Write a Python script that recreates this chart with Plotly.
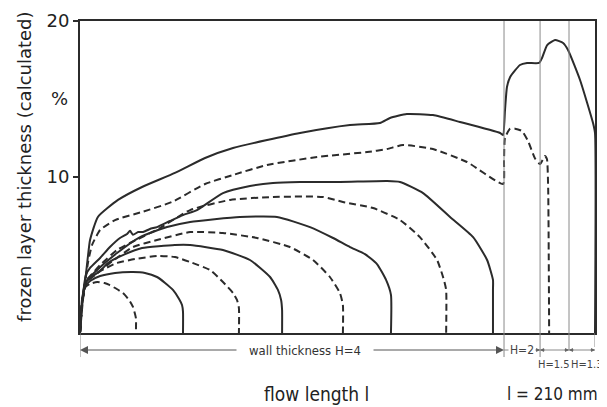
import plotly.graph_objects as go

# flow length in mm, frozen layer thickness in %
x1 = [0, 0.8, 2, 4, 7, 10, 12, 15, 17.5, 20, 21.6, 22.8, 22.8]
y1 = [0, 1.8, 2.9, 3.15, 3.27, 3.2, 3.08, 2.82, 2.56, 2.12, 1.67, 0.95, 0]

x2 = [0, 0.8, 2, 4.1, 8.2, 14.3, 21.6, 26.5, 31.4, 34.7, 37.9, 40.4, 41.6, 42, 42]
y2 = [0, 1.8, 2.95, 3.33, 3.65, 3.85, 3.91, 3.85, 3.59, 3.21, 2.76, 2.18, 1.79, 1.35, 0]

x3 = [0, 0.8, 2, 3.3, 8.2, 15.1, 22.4, 31.8, 38.7, 44.9, 53, 58.3, 62.4, 64, 64.8, 64.8]
y3 = [0, 1.8, 3.0, 3.4, 3.97, 4.49, 4.74, 4.94, 4.87, 4.55, 4.04, 3.27, 2.56, 2.12, 1.6, 0]

x4 = [0, 0.8, 2, 4.1, 8.2, 11.4, 18.4, 25.3, 38.7, 44.9, 58.3, 69.3, 77.5, 80.7, 82, 82.4, 82.4]
y4 = [0, 1.8, 3.14, 3.53, 3.97, 4.49, 5.06, 5.45, 5.64, 5.64, 5.32, 4.68, 3.59, 2.76, 2.12, 1.47, 0]

x5 = [0, 0.8, 2.4, 6.1, 12.2, 21.6, 31.4, 44.9, 58.3, 72.2, 85.6, 95, 101.9, 106, 107.2, 107.2]
y5 = [0, 1.8, 3.21, 3.72, 4.49, 5.51, 5.96, 6.47, 6.41, 6.09, 5.51, 4.68, 3.59, 2.56, 1.79, 0]

x6 = [0, 0.8, 2.4, 6.1, 15.1, 24.5, 35.5, 44.9, 65.2, 80.3, 93.8, 103.2, 110.1, 116.2, 121.1, 124.8, 126.8, 126.8]
y6 = [0, 1.8, 3.27, 3.91, 5.13, 6.15, 6.79, 7.12, 7.44, 7.44, 6.79, 6.09, 5.51, 5.06, 4.42, 3.4, 2.44, 0]

x7 = [0, 0.8, 2.4, 4.9, 8.2, 15.1, 20.4, 32.6, 44.9, 61.2, 78.7, 99.1, 107.2, 119.5, 130.5, 138.6, 145.6, 148.4, 149.3, 149.3]
y7 = [0, 1.8, 3.33, 3.78, 4.36, 5.32, 5.77, 6.73, 7.88, 8.53, 8.72, 8.72, 8.4, 8.01, 7.24, 6.15, 4.68, 3.4, 2.76, 0]

x8 = [0, 0.8, 2.4, 4.1, 8.2, 12.2, 16.3, 19.2, 20.4, 21.6, 23.7, 25.7, 28.5, 31.4, 36.7, 42, 47.7, 58.3, 69.3, 78.7,
      89.7, 106, 125.2, 130.5, 139.9, 150.9, 160.3, 166, 168.4, 168.4, 168.4]
y8 = [0, 1.8, 3.72, 4.17, 4.81, 5.51, 6.09, 6.35, 6.55, 6.3, 6.47, 6.47, 6.67, 6.79, 7.18, 7.56, 7.88, 8.97, 9.42, 9.62,
      9.68, 9.68, 9.74, 9.68, 8.97, 7.44, 6.15, 4.68, 3.4, 2.76, 0]

x9 = [0, 1.2, 3.3, 4.9, 8.2, 14.3, 25.3, 37.5, 51, 62.4, 76.3, 96.7, 117.1, 125.2, 131.7, 143.9, 157.8, 172.5,
      172.9, 173.3, 175.4, 177.4, 180.2, 182.7, 185.5, 187.6, 189.6, 190.4, 190.9, 191.3]
y9 = [0, 2.12, 4.55, 5.64, 6.6, 7.24, 7.76, 8.4, 9.55, 10.13, 10.77, 11.28, 11.6, 11.79, 12.05, 11.79, 10.96, 9.55,
      11.0, 12.5, 13.1, 13.1, 12.95, 12.3, 11.2, 10.83, 11.35, 11.15, 9.29, 0]

x10 = [0, 0.8, 2, 3.3, 4.1, 7.3, 15.5, 25.3, 38.7, 51, 62.4, 89.7, 110.1, 122.3, 126.4, 133.3, 143.9, 154.9, 171.3,
       172.5, 173.3, 174.1, 175.4, 179.4, 182.3, 187.2, 188.4, 190.5, 193.7, 197, 199, 203.9, 209.2, 210, 210]
y10 = [0, 2.12, 3.21, 5, 5.96, 7.44, 8.53, 9.36, 10.26, 11.22, 11.86, 12.82, 13.33, 13.46, 13.78, 14.04, 13.97, 13.53,
       12.82, 12.69, 14.29, 15.77, 16.41, 17.18, 17.31, 17.31, 17.63, 18.46, 18.78, 18.59, 18.14, 16.22, 13.46, 12.82, 0]

series = [(x1, y1, True), (x2, y2, False), (x3, y3, True), (x4, y4, False), (x5, y5, True),
          (x6, y6, False), (x7, y7, True), (x8, y8, False), (x9, y9, True), (x10, y10, False)]

# wall thickness zone boundaries (mm)
zone_x = [172.9, 187.6, 199.4]
y_ticks = [10, 20]

INK = "#2b2b2b"
GREY = "#8a8a8a"
FONT = "DejaVu Sans Condensed, Liberation Sans Narrow, Roboto, sans-serif"
FONT_W = "DejaVu Sans, Roboto, sans-serif"

fig = go.Figure()
for xs, ys, dashed in series:
    fig.add_trace(go.Scatter(
        x=xs, y=ys, mode="lines",
        line=dict(color=INK, width=2, dash="7px,4px" if dashed else "solid", shape="spline", smoothing=0.5),
        showlegend=False, hoverinfo="skip"))

# thin vertical zone lines
for zx, bottom in zip(zone_x, [-0.077, -0.077, -0.055]):
    fig.add_shape(type="line", xref="x", yref="paper", x0=zx, x1=zx, y0=bottom, y1=1,
                  line=dict(color=GREY, width=1))
fig.add_shape(type="line", xref="x", yref="paper", x0=210, x1=210, y0=-0.045, y1=0,
              line=dict(color=GREY, width=1))
fig.add_shape(type="line", xref="x", yref="paper", x0=0, x1=0, y0=-0.077, y1=0,
              line=dict(color=GREY, width=1))

# dimension line arrows
dim_y = -0.0545
fig.add_annotation(x=0, y=dim_y, xref="x", yref="paper", ax=158, ay=0, text="", showarrow=True,
                   arrowhead=2, arrowsize=1.6, arrowwidth=1, arrowcolor="#555")
fig.add_annotation(x=zone_x[0], y=dim_y, xref="x", yref="paper", ax=-132, ay=0, text="", showarrow=True,
                   arrowhead=2, arrowsize=1.6, arrowwidth=1, arrowcolor="#555")
fig.add_shape(type="line", xref="x", yref="paper", x0=zone_x[0], x1=zone_x[2], y0=dim_y, y1=dim_y,
              line=dict(color=GREY, width=1))
fig.add_shape(type="line", xref="x", yref="paper", x0=zone_x[2], x1=210, y0=dim_y, y1=dim_y,
              line=dict(color=GREY, width=1))
# small arrowheads on the short dimension segments
for tip, off in [(zone_x[1], -6), (zone_x[1], 6), (zone_x[2], -6), (zone_x[2], 6), (210, -6)]:
    fig.add_annotation(x=tip, y=dim_y, xref="x", yref="paper", ax=off, ay=0, text="", showarrow=True,
                       arrowhead=2, arrowsize=0.8, arrowwidth=1, arrowcolor="#666")


def label(x, y, text, font, size, xref="x", yref="paper", xanchor="center", angle=0, bg=None, color="#222"):
    fig.add_annotation(x=x, y=y, xref=xref, yref=yref, text=text, showarrow=False, xanchor=xanchor,
                       yanchor="middle", textangle=angle, bgcolor=bg,
                       font=dict(family=font, size=size, color=color))


label(91.8, dim_y, "wall thickness H=4", FONT, 13, bg="white", color="#333")
label(180.2, dim_y, "H=2", FONT, 12, bg="white", color="#444")
label(193.2, -0.1, "H=1.5", FONT, 11, color="#444")
label(1.0175, -0.1, "H=1.3", FONT, 11, xref="paper", xanchor="right", color="#444")
label(96.5, -0.195, "flow length l", FONT, 19)
label(192.8, -0.195, "l = 210 mm", FONT, 17)
label(-0.039, 15.06, "%", FONT_W, 18, xref="paper", yref="y")
label(-0.109, 0.535, "frozen layer thickness (calculated)", FONT_W, 18, xref="paper", angle=-90)

fig.update_xaxes(range=[0, 210], showgrid=False, zeroline=False, showticklabels=False, ticks="",
                 showline=True, linecolor=INK, linewidth=2, mirror=True, automargin=False)
fig.update_yaxes(range=[0, 20], showgrid=False, zeroline=False, tickvals=y_ticks, ticktext=["10", "20"],
                 ticks="outside", ticklen=5, tickwidth=1.5, tickcolor=INK,
                 tickfont=dict(family=FONT_W, size=18, color="#222"),
                 showline=True, linecolor=INK, linewidth=2, mirror=True, automargin=False)
# page body adds an 8px offset; figure is sized so the plot lands where the reference has it
fig.update_layout(width=599, height=399, margin=dict(l=72, r=12, t=13, b=74, autoexpand=False),
                  plot_bgcolor="white", paper_bgcolor="white")
fig.write_html("out.html")
